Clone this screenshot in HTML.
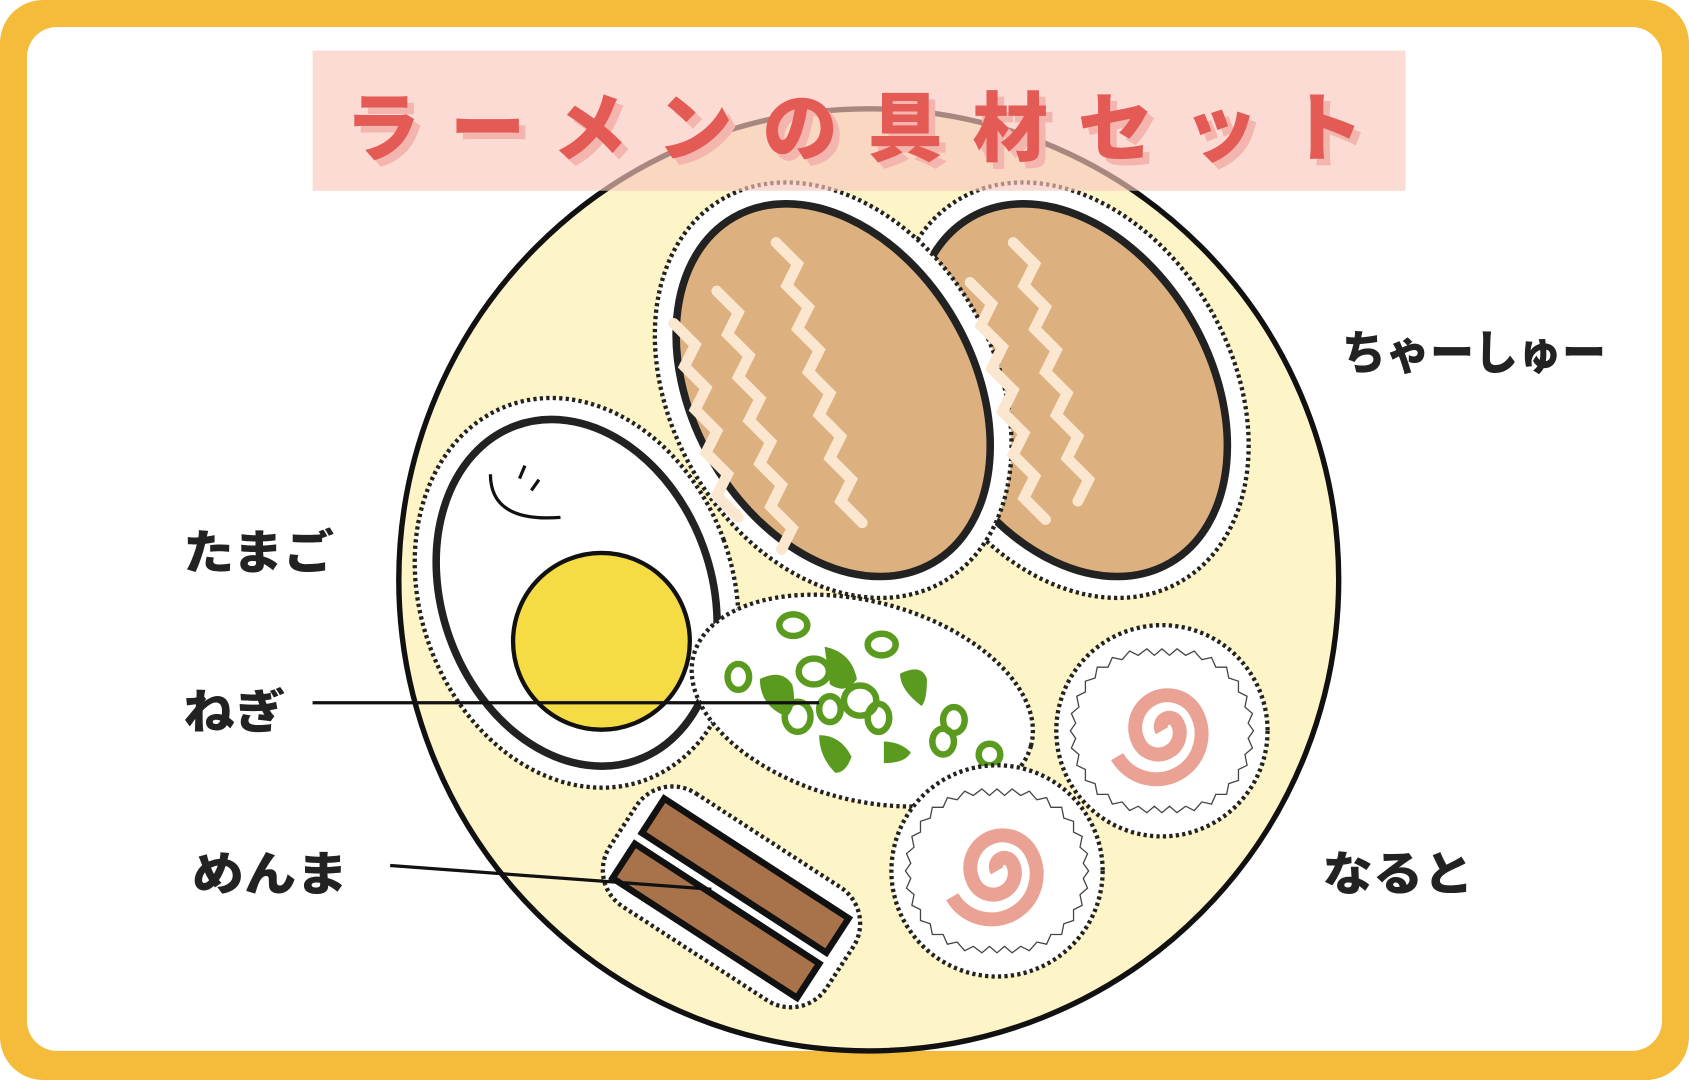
<!DOCTYPE html>
<html><head><meta charset="utf-8">
<style>
html,body{margin:0;padding:0;background:#fff;}
svg{display:block;}
text{font-family:"Liberation Sans","Noto Sans CJK JP",sans-serif;font-weight:900;}
</style></head><body>
<svg width="1689" height="1080" viewBox="0 0 1567 1002" preserveAspectRatio="none" xmlns="http://www.w3.org/2000/svg">
<rect x="0" y="0" width="1567" height="1002" rx="40" fill="#f5bb3a"/>
<rect x="25" y="25" width="1517" height="950" rx="28" fill="#fff"/>
<!-- bowl -->
<ellipse cx="806" cy="538" rx="436" ry="437" fill="#fdf4c8" stroke="#111" stroke-width="5"/>
<!-- chashu -->
<g transform="rotate(-30 993 362)">
<ellipse cx="993" cy="362" rx="150" ry="205" fill="#fff" stroke="#222" stroke-width="4" stroke-dasharray="3 3"/>
<ellipse cx="993" cy="362" rx="130" ry="185" fill="#dcb07f" stroke="#222" stroke-width="7"/>
</g>
<g transform="rotate(-30 773 362)">
<ellipse cx="773" cy="362" rx="150" ry="205" fill="#fff" stroke="#222" stroke-width="4" stroke-dasharray="3 3"/>
<ellipse cx="773" cy="362" rx="130" ry="185" fill="#dcb07f" stroke="#222" stroke-width="7"/>
</g>
<g fill="none" stroke="#fbe6cf" stroke-width="10" stroke-linecap="round">
<path d="M720 225 l20 20 -10 20 20 20 -10 20 20 20 -10 20 20 20 -10 20 20 20 -10 20 20 20 -10 20 20 20"/>
<path d="M665 270 l20 20 -10 20 20 20 -10 20 20 20 -10 20 20 20 -10 20 20 20 -10 20 20 20 -10 20"/>
<path d="M625 300 l20 20 -10 20 20 20 -10 20 20 20 -10 20 20 20 -10 20 20 20"/>
<path d="M940 225 l20 20 -10 20 20 20 -10 20 20 20 -10 20 20 20 -10 20 20 20 -10 20 20 20 -10 20"/>
<path d="M900 262 l20 20 -10 20 20 20 -10 20 20 20 -10 20 20 20 -10 20 20 20 -10 20 20 20"/>
</g>
<!-- egg -->
<g transform="rotate(-20 535 550)">
<ellipse cx="535" cy="550" rx="145" ry="185" fill="#fff" stroke="#222" stroke-width="4" stroke-dasharray="3 3"/>
<ellipse cx="535" cy="550" rx="125" ry="165" fill="#fff" stroke="#222" stroke-width="7"/>
</g>
<circle cx="558" cy="595" r="82" fill="#f5dc45" stroke="#111" stroke-width="4"/>
<path d="M455 440 q0 45 65 40" fill="none" stroke="#111" stroke-width="3"/>
<path d="M487 432 l-5 12 M500 445 l-7 10" stroke="#111" stroke-width="3"/>
<!-- negi -->
<ellipse cx="800" cy="650" rx="162" ry="92" transform="rotate(15 800 650)" fill="#fff" stroke="#222" stroke-width="4" stroke-dasharray="3 3"/>
<g fill="none" stroke="#5a9a1e" stroke-width="6">
<ellipse cx="736" cy="580" rx="13" ry="10"/><ellipse cx="685" cy="628" rx="10" ry="12"/>
<ellipse cx="818" cy="598" rx="13" ry="10"/><ellipse cx="755" cy="623" rx="14" ry="12"/>
<ellipse cx="798" cy="650" rx="15" ry="14"/><ellipse cx="770" cy="658" rx="10" ry="12"/>
<ellipse cx="740" cy="665" rx="12" ry="14"/><ellipse cx="815" cy="666" rx="10" ry="13"/>
<ellipse cx="885" cy="668" rx="10" ry="12"/><ellipse cx="875" cy="688" rx="10" ry="12"/>
<ellipse cx="918" cy="700" rx="10" ry="10"/>
</g>
<g fill="#5a9a1e">
<path d="M705 630 q20 -10 30 5 q5 20 -5 30 q-25 -10 -25 -35z"/>
<path d="M765 600 q25 5 30 30 q-10 15 -25 5z"/>
<path d="M835 625 q20 -10 25 5 q0 20 -5 25 q-20 -15 -20 -30z"/>
<path d="M760 682 q20 0 30 20 q-5 15 -15 15 q-15 -15 -15 -35z"/>
<path d="M820 688 q15 0 25 10 q-5 10 -25 10z"/>
</g>
<!-- naruto -->
<g>
<circle cx="1078" cy="678" r="98" fill="#fff" stroke="#222" stroke-width="4" stroke-dasharray="3 3"/>
<path id="zag1" fill="#fff" stroke="#444" stroke-width="1.2" d="M1163 678 L1158 685 L1162 694 L1155 700 L1157 710 L1149 714 L1149 724 L1140 727 L1138 737 L1128 737 L1124 746 L1115 744 L1108 752 L1100 748 L1092 754 L1085 748 L1078 754 L1071 748 L1064 754 L1056 748 L1048 752 L1041 744 L1032 746 L1028 737 L1018 737 L1016 727 L1007 724 L1007 714 L999 710 L1001 700 L994 694 L998 685 L993 678 L998 671 L994 662 L1001 656 L999 646 L1007 642 L1007 632 L1016 629 L1018 619 L1028 619 L1032 610 L1041 612 L1048 604 L1056 608 L1064 602 L1071 608 L1078 602 L1085 608 L1092 602 L1100 608 L1108 604 L1115 612 L1124 610 L1128 619 L1138 619 L1140 629 L1149 632 L1149 642 L1157 646 L1155 656 L1162 662 L1158 671Z"/>
<path d="M1078 678 m0 0 a8 8 0 0 1 16 0 a20 20 0 0 1 -40 0 a30 30 0 0 1 60 0 a42 42 0 0 1 -84 0" fill="none" stroke="#e9a294" stroke-width="13" transform="rotate(-30 1078 678)"/>
</g>
<g>
<circle cx="925" cy="808" r="98" fill="#fff" stroke="#222" stroke-width="4" stroke-dasharray="3 3"/>
<use href="#zag1" transform="translate(-153 130)"/>
<path d="M925 808 m0 0 a8 8 0 0 1 16 0 a20 20 0 0 1 -40 0 a30 30 0 0 1 60 0 a42 42 0 0 1 -84 0" fill="none" stroke="#e9a294" stroke-width="13" transform="rotate(-30 925 808)"/>
</g>
<!-- menma -->
<g transform="rotate(33 680 830)">
<rect x="560" y="770" width="240" height="125" rx="40" fill="#fff" stroke="#222" stroke-width="4" stroke-dasharray="3 3"/>
<rect x="578" y="790" width="204" height="38" fill="#a8734b" stroke="#111" stroke-width="6"/>
<rect x="578" y="840" width="204" height="38" fill="#a8734b" stroke="#111" stroke-width="6"/>
</g>
<!-- title -->
<rect x="290" y="47" width="1014" height="130" fill="#f9c7bd" opacity="0.65"/>
<text x="326" y="150" textLength="945" lengthAdjust="spacing" font-size="70" fill="#f3b5ad">ラーメンの具材セット</text>
<text x="320" y="144" textLength="945" lengthAdjust="spacing" font-size="70" fill="#e45a55">ラーメンの具材セット</text>
<!-- labels -->
<g font-size="44" fill="#222">
<text x="1245" y="343" textLength="245" lengthAdjust="spacingAndGlyphs">ちゃーしゅー</text>
<text x="170" y="528" textLength="140" lengthAdjust="spacingAndGlyphs">たまご</text>
<text x="170" y="676" textLength="95" lengthAdjust="spacingAndGlyphs">ねぎ</text>
<text x="178" y="826" textLength="145" lengthAdjust="spacingAndGlyphs">めんま</text>
<text x="1227" y="826" textLength="140" lengthAdjust="spacingAndGlyphs">なると</text>
</g>
<line x1="290" y1="652" x2="760" y2="652" stroke="#111" stroke-width="3"/>
<line x1="362" y1="803" x2="660" y2="825" stroke="#111" stroke-width="3"/>
</svg>
</body></html>
